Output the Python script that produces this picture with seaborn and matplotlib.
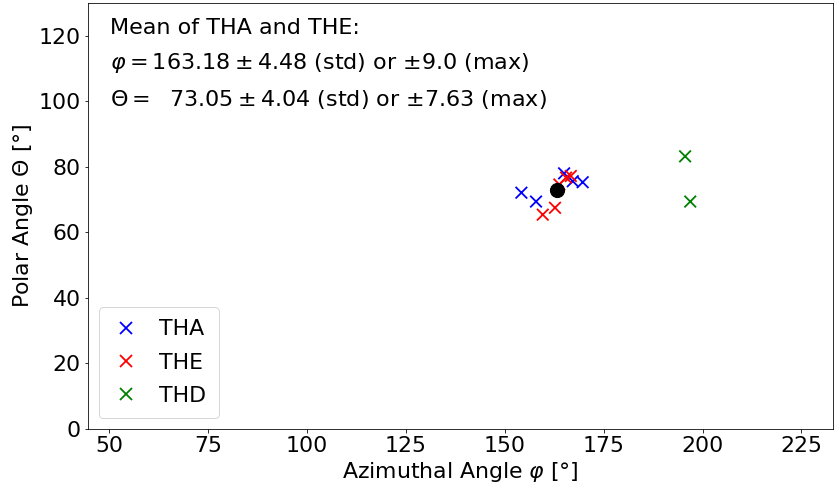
import numpy as np
import pandas as pd
import matplotlib
matplotlib.use("Agg")
import matplotlib.pyplot as plt
import seaborn as sns

# ---------- Data ----------

tha_phi = [154.2, 157.9, 165.0, 167.2, 169.7]
tha_theta = [72.1, 69.4, 78.0, 75.6, 75.3]

the_phi = [159.6, 162.7, 163.8, 165.5, 166.7]
the_theta = [65.4, 67.5, 74.6, 76.7, 77.2]

thd_phi = [195.6, 196.9]
thd_theta = [83.2, 69.4]

mean_phi = 163.18
mean_theta = 73.05

probes = ["THA", "THE", "THD"]
colors = ["blue", "red", "green"]

df = pd.DataFrame({
    "phi": tha_phi + the_phi + thd_phi,
    "theta": tha_theta + the_theta + thd_theta,
    "probe": ["THA"] * len(tha_phi) + ["THE"] * len(the_phi) + ["THD"] * len(thd_phi),
})

# ---------- Plot ----------

plt.rcParams["font.size"] = 22

fig, ax = plt.subplots(figsize=(834 / 72, 490 / 72), dpi=72)
fig.subplots_adjust(left=0.1055, right=0.9988, top=0.994, bottom=0.1245)

sns.scatterplot(
    data=df, x="phi", y="theta", hue="probe", hue_order=probes,
    palette=colors, marker="x", s=135, linewidth=1.8, ax=ax, zorder=2
)
# mean of THA and THE
ax.scatter([mean_phi], [mean_theta], s=200, color="black", zorder=3)

ax.set_xlim(44.6, 233)
ax.set_ylim(0, 130)
ax.set_xticks([50, 75, 100, 125, 150, 175, 200, 225])
ax.set_yticks([0, 20, 40, 60, 80, 100, 120])
ax.set_xlabel(r"Azimuthal Angle $\varphi$ [°]")
ax.set_ylabel(r"Polar Angle $\Theta$ [°]")

ax.legend(loc="lower left", fontsize=22, title=None, handlelength=1.4,
          labelspacing=0.6, borderpad=0.55)

txt = ("Mean of THA and THE:\n"
       r"$\varphi = 163.18 \pm 4.48$ (std) or $\pm$9.0 (max)" "\n"
       r"$\Theta =\ \ 73.05 \pm 4.04$ (std) or $\pm$7.63 (max)")
ax.text(0.03, 0.965, txt, transform=ax.transAxes, va="top", ha="left",
        fontsize=22.3, linespacing=1.72)

fig.savefig("out.png", dpi=72)
